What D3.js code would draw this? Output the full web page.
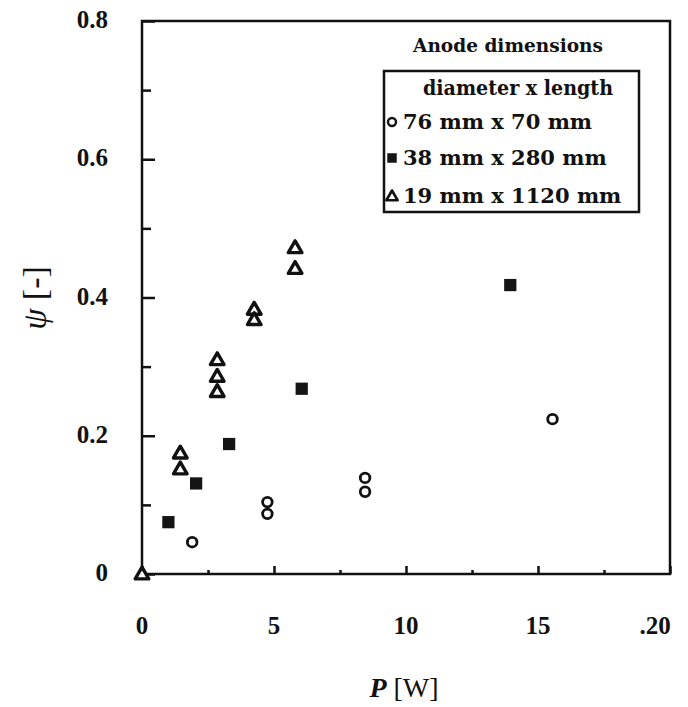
<!DOCTYPE html>
<html>
<head>
<meta charset="utf-8">
<script src="https://cdn.jsdelivr.net/npm/d3@7"></script>
<style>
body { margin: 0; background: #fff; }
text { font-family: "Liberation Serif", "DejaVu Serif", serif; font-weight: bold; fill: #111; }
.lg { font-family: "DejaVu Serif", "Liberation Serif", serif; }
</style>
</head>
<body>
<svg id="chart"></svg>
<script>
// anode 76 mm x 70 mm (open circles)
var circleP = [1.9, 4.75, 4.75, 8.45, 8.45, 15.55];
var circlePsi = [0.046, 0.104, 0.087, 0.139, 0.119, 0.224];
// anode 38 mm x 280 mm (filled squares)
var squareP = [1.0, 2.05, 3.3, 6.05, 13.95];
var squarePsi = [0.075, 0.131, 0.188, 0.268, 0.418];
// anode 19 mm x 1120 mm (open triangles)
var triP = [0, 1.45, 1.45, 2.85, 2.85, 2.85, 4.25, 4.25, 5.8, 5.8];
var triPsi = [0, 0.175, 0.152, 0.31, 0.286, 0.264, 0.383, 0.368, 0.472, 0.442];

var xTicks = [0, 5, 10, 15, 20];
var xTickLabels = ["0", "5", "10", "15", ".20"];
var xMinor = [2.5, 7.5, 12.5, 17.5];
var yTicks = [0, 0.2, 0.4, 0.6, 0.8];
var yTickLabels = ["0", "0.2", "0.4", "0.6", "0.8"];
var yMinor = [0.1, 0.3, 0.5, 0.7];

var legendLabels = ["76 mm x 70 mm", "38 mm x 280 mm", "19 mm x 1120 mm"];

var width = 688, height = 707;
var margin = ({top: 21, right: 18, bottom: 133, left: 142});

var svg = d3.select("#chart").attr("width", width).attr("height", height);

x = d3.scaleLinear().domain([0, 20]).range([margin.left, width - margin.right]);
y = d3.scaleLinear().domain([0, 0.8]).range([height - margin.bottom, margin.top]);

// frame
svg.append("rect")
.attr("x", x(0)).attr("y", y(0.8))
.attr("width", x(20) - x(0)).attr("height", y(0) - y(0.8))
.attr("fill", "none").attr("stroke", "#111").attr("stroke-width", 2.5);

// inward ticks
svg.append("g").attr("transform", `translate(0,${y(0)})`)
.call(d3.axisTop(x).tickValues(xTicks).tickSize(8).tickFormat(""))
.call(g => g.select(".domain").remove())
.call(g => g.selectAll("line").attr("stroke", "#111").attr("stroke-width", 2.5));
svg.append("g").attr("transform", `translate(0,${y(0)})`)
.call(d3.axisTop(x).tickValues(xMinor).tickSize(4).tickFormat(""))
.call(g => g.select(".domain").remove())
.call(g => g.selectAll("line").attr("stroke", "#111").attr("stroke-width", 2.5));
svg.append("g").attr("transform", `translate(${x(0)},0)`)
.call(d3.axisRight(y).tickValues(yTicks).tickSize(13).tickFormat(""))
.call(g => g.select(".domain").remove())
.call(g => g.selectAll("line").attr("stroke", "#111").attr("stroke-width", 2.5));
svg.append("g").attr("transform", `translate(${x(0)},0)`)
.call(d3.axisRight(y).tickValues(yMinor).tickSize(9).tickFormat(""))
.call(g => g.select(".domain").remove())
.call(g => g.selectAll("line").attr("stroke", "#111").attr("stroke-width", 2.5));

// tick labels
svg.append("g").selectAll("text").data(xTicks).join("text")
.attr("x", (d, i) => x(d) + (i == 4 ? -15 : 0))
.attr("y", 634)
.attr("text-anchor", "middle")
.attr("font-size", 25)
.text((d, i) => xTickLabels[i]);
svg.append("g").selectAll("text").data(yTicks).join("text")
.attr("x", 108)
.attr("y", d => y(d) + 7)
.attr("text-anchor", "end")
.attr("font-size", 25)
.text((d, i) => yTickLabels[i]);

// axis titles
var xt = svg.append("text").attr("x", 404).attr("y", 697).attr("text-anchor", "middle").attr("font-size", 28);
xt.append("tspan").attr("font-style", "italic").text("P");
xt.append("tspan").attr("font-weight", "normal").text(" [W]");
var yt = svg.append("text").attr("transform", "translate(46,298) rotate(-90)").attr("text-anchor", "middle").attr("font-size", 34);
yt.append("tspan").attr("font-style", "italic").attr("font-weight", "normal").text("ψ");
yt.append("tspan").attr("font-weight", "normal").text(" [-]");

// data
var circles = circleP.map((p, i) => ({p: p, psi: circlePsi[i]}));
var squares = squareP.map((p, i) => ({p: p, psi: squarePsi[i]}));
var tris = triP.map((p, i) => ({p: p, psi: triPsi[i]}));

svg.append("g").selectAll("circle").data(circles).join("circle")
.attr("cx", d => x(d.p)).attr("cy", d => y(d.psi)).attr("r", 4.8)
.attr("fill", "#fff").attr("stroke", "#111").attr("stroke-width", 2.8);

svg.append("g").selectAll("path").data(squares).join("path")
.attr("transform", d => `translate(${x(d.p)},${y(d.psi)})`)
.attr("d", d3.symbol(d3.symbolSquare, 150))
.attr("fill", "#151515");

svg.append("g").selectAll("path").data(tris).join("path")
.attr("transform", d => `translate(${x(d.p)},${y(d.psi) + 1})`)
.attr("d", d3.symbol(d3.symbolTriangle, 80))
.attr("fill", "#fff").attr("stroke", "#111").attr("stroke-width", 3.4).attr("stroke-linejoin", "round");

// legend
svg.append("text").attr("class", "lg").attr("x", 508).attr("y", 52).attr("text-anchor", "middle")
.attr("font-size", 19).attr("textLength", 190).attr("lengthAdjust", "spacingAndGlyphs").text("Anode dimensions");
svg.append("rect").attr("x", 384).attr("y", 71).attr("width", 255).attr("height", 141)
.attr("fill", "#fff").attr("stroke", "#111").attr("stroke-width", 2.5);
svg.append("text").attr("class", "lg").attr("x", 518).attr("y", 95).attr("text-anchor", "middle")
.attr("font-size", 20).attr("textLength", 190).attr("lengthAdjust", "spacingAndGlyphs").text("diameter x length");

var rowsY = [122, 158, 196];
var lg = svg.append("g");
lg.selectAll("text").data(legendLabels).join("text")
.attr("class", "lg")
.attr("x", 403).attr("y", (d, i) => rowsY[i] + 7).attr("font-size", 21).text(d => d);
lg.append("circle").attr("cx", 392).attr("cy", rowsY[0]).attr("r", 4)
.attr("fill", "#fff").attr("stroke", "#111").attr("stroke-width", 2.4);
lg.append("path").attr("transform", `translate(392,${rowsY[1]})`)
.attr("d", d3.symbol(d3.symbolSquare, 90)).attr("fill", "#151515");
lg.append("path").attr("transform", `translate(392,${rowsY[2] + 1})`)
.attr("d", d3.symbol(d3.symbolTriangle, 55))
.attr("fill", "#fff").attr("stroke", "#111").attr("stroke-width", 2.6).attr("stroke-linejoin", "round");
</script>
</body>
</html>
